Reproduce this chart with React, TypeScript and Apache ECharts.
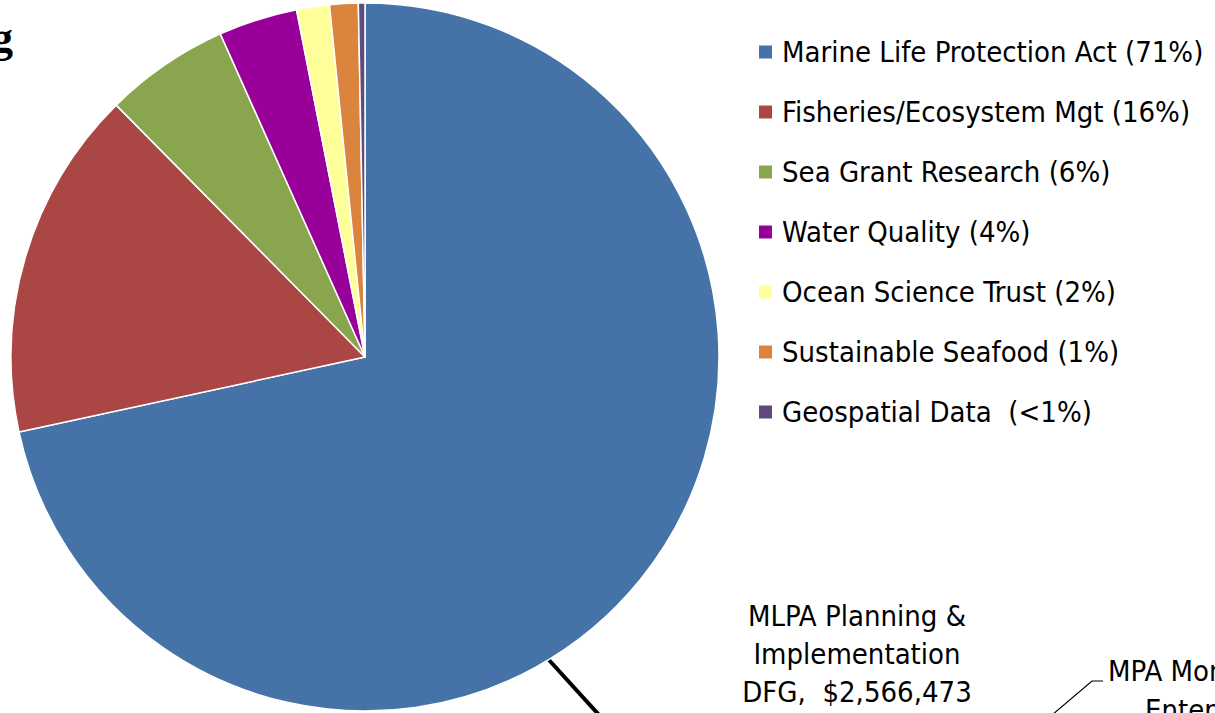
import React, { useEffect, useRef } from "react";
import * as echarts from "echarts";

const categories = [
  "Marine Life Protection Act (71%)",
  "Fisheries/Ecosystem Mgt (16%)",
  "Sea Grant Research (6%)",
  "Water Quality (4%)",
  "Ocean Science Trust (2%)",
  "Sustainable Seafood (1%)",
  "Geospatial Data  (<1%)",
];
const shares = [71.6, 16.0, 5.7, 3.6, 1.5, 1.3, 0.3];
const colors = ["#4572A7", "#AA4643", "#89A54E", "#990099", "#FFFF99", "#DB843D", "#604A7B"];

const FONT = "'DejaVu Sans Condensed', sans-serif";

export default function App() {
  const ref = useRef<HTMLDivElement>(null);
  useEffect(() => {
    if (!ref.current) return;
    const chart = echarts.init(ref.current, null, { renderer: "svg" });
    chart.setOption({
      animation: false,
      backgroundColor: "#ffffff",
      legend: {
        orient: "vertical",
        left: 757,
        top: 37,
        padding: 0,
        icon: "rect",
        itemWidth: 15,
        itemHeight: 15,
        itemGap: 30,
        textStyle: { fontSize: 29, color: "#000", fontFamily: FONT, lineHeight: 30, padding: [0, 0, 0, 4] },
        data: categories,
      },
      series: [
        {
          type: "pie",
          center: [365, 357],
          radius: 354,
          startAngle: 90,
          clockwise: true,
          label: { show: false },
          labelLine: { show: false },
          itemStyle: { borderColor: "#ffffff", borderWidth: 1.5 },
          data: categories.map((c, i) => ({ name: c, value: shares[i], itemStyle: { color: colors[i] } })),
        },
      ],
      graphic: [
        { type: "text", x: 13, y: 37, style: { text: "g", fontFamily: "'Liberation Serif', serif", fontWeight: "bold", fontSize: 44, fill: "#000", align: "right", verticalAlign: "middle" } },
        { type: "line", shape: { x1: 549, y1: 660, x2: 600, y2: 716 }, style: { stroke: "#000", lineWidth: 4 } },
        { type: "polyline", shape: { points: [[1052, 715], [1092, 681], [1103, 681]] }, style: { stroke: "#000", lineWidth: 1.2, fill: "none" } },
        { type: "text", x: 857, y: 616, style: { text: "MLPA Planning &", fontFamily: FONT, fontSize: 29, fill: "#000", align: "center", verticalAlign: "middle" } },
        { type: "text", x: 857, y: 654, style: { text: "Implementation", fontFamily: FONT, fontSize: 29, fill: "#000", align: "center", verticalAlign: "middle" } },
        { type: "text", x: 857, y: 692, style: { text: "DFG,  $2,566,473", fontFamily: FONT, fontSize: 29, fill: "#000", align: "center", verticalAlign: "middle" } },
        { type: "text", x: 1108, y: 671, style: { text: "MPA Monitoring", fontFamily: FONT, fontSize: 29, fill: "#000", align: "left", verticalAlign: "middle" } },
        { type: "text", x: 1145, y: 710, style: { text: "Enterprise", fontFamily: FONT, fontSize: 29, fill: "#000", align: "left", verticalAlign: "middle" } },
      ],
    });
    return () => chart.dispose();
  }, []);
  return <div ref={ref} style={{ position: "absolute", left: 0, top: 0, width: 1215, height: 713 }} />;
}
